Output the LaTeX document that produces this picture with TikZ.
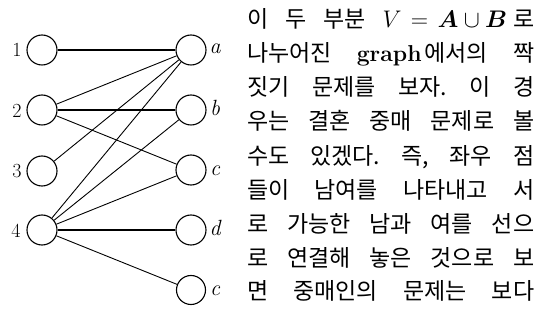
\RequirePackage{fix-cm}
\documentclass[tikz,border=0pt]{standalone}
\usepackage{amsmath}
\usepackage{fontspec}
\newfontfamily\kr[Kerning=Off]{Noto Sans CJK KR}
\begin{document}
\frenchspacing
\begin{tikzpicture}[x=1pt,y=-1pt,
  vtx/.style={draw,circle,minimum size=30pt,inner sep=0pt,line width=1.1pt},
  thinedge/.style={line width=0.9pt},
  thickedge/.style={line width=2.4pt},
  numlab/.style={font=\fontsize{20}{20}\selectfont,inner sep=0pt},
  letlab/.style={font=\itshape\fontsize{22}{22}\selectfont,inner sep=0pt},
  txt/.style={anchor=base west,inner sep=0pt,font=\kr\fontsize{23}{26}\selectfont}]
\useasboundingbox (0,0) rectangle (550,331);
% left vertices
\node[vtx] (v1) at (42,50) {};
\node[vtx] (v2) at (42,110) {};
\node[vtx] (v3) at (42,171) {};
\node[vtx] (v4) at (42,230) {};
% right vertices
\node[vtx] (va) at (191,50) {};
\node[vtx] (vb) at (191,110) {};
\node[vtx] (vc) at (191,170) {};
\node[vtx] (vd) at (191,230) {};
\node[vtx,minimum size=29pt] (ve) at (191,290) {};
% labels
\node[numlab] (n1) at (17,50) {1};
\node[numlab] (n2) at (17,111) {2};
\node[numlab] (n3) at (17,171) {3};
\node[numlab] (n4) at (16,231) {4};
\node[letlab] (la) at (215,49) {a};
\node[letlab] (lb) at (215,108) {b};
\node[letlab] (lc) at (215,171) {c};
\node[letlab] (ld) at (215,228) {d};
\node[letlab] (le) at (215,291) {c};
% edges
\draw[thickedge] (v1) -- (va);
\draw[thickedge] (v2) -- (vb);
\draw[thickedge] (v4) -- (vd);
\draw[thinedge] (v2) -- (va);
\draw[thinedge] (v2) -- (vc);
\draw[thinedge] (v3) -- (va);
\draw[thinedge] (v4) -- (va);
\draw[thinedge] (v4) -- (vb);
\draw[thinedge] (v4) -- (vc);
\draw[thinedge] (v4) -- (ve);
% text
\node[txt] (t1) at (247,28) {\makebox[287pt][s]{이 두 부분 \fontsize{24}{26}\selectfont$V\mkern7mu{=}\mkern7mu\boldsymbol{A}\mkern4mu{\cup}\mkern4mu\boldsymbol{B}$\hspace{6pt}\fontsize{23}{26}\selectfont 로}};
\node[txt] (t2) at (247,62) {\makebox[287pt][s]{나누어진 {\rmfamily\bfseries\fontsize{23}{26}\selectfont graph}\hspace{3pt}에서의 짝}};
\node[txt] (t3) at (247,96) {\makebox[287pt][s]{짓기 문제를 보자. 이 경}};
\node[txt] (t4) at (247,130) {\makebox[287pt][s]{우는 결혼 중매 문제로 볼}};
\node[txt] (t5) at (247,164.5) {\makebox[287pt][s]{수도 있겠다. 즉, 좌우 점}};
\node[txt] (t6) at (247,198.5) {\makebox[287pt][s]{들이 남여를 나타내고 서}};
\node[txt] (t7) at (247,232.5) {\makebox[287pt][s]{로 가능한 남과 여를 선으}};
\node[txt] (t8) at (247,266.5) {\makebox[287pt][s]{로 연결해 놓은 것으로 보}};
\node[txt] (t9) at (247,300) {\makebox[287pt][s]{면 중매인의 문제는 보다}};
\end{tikzpicture}
\end{document}
